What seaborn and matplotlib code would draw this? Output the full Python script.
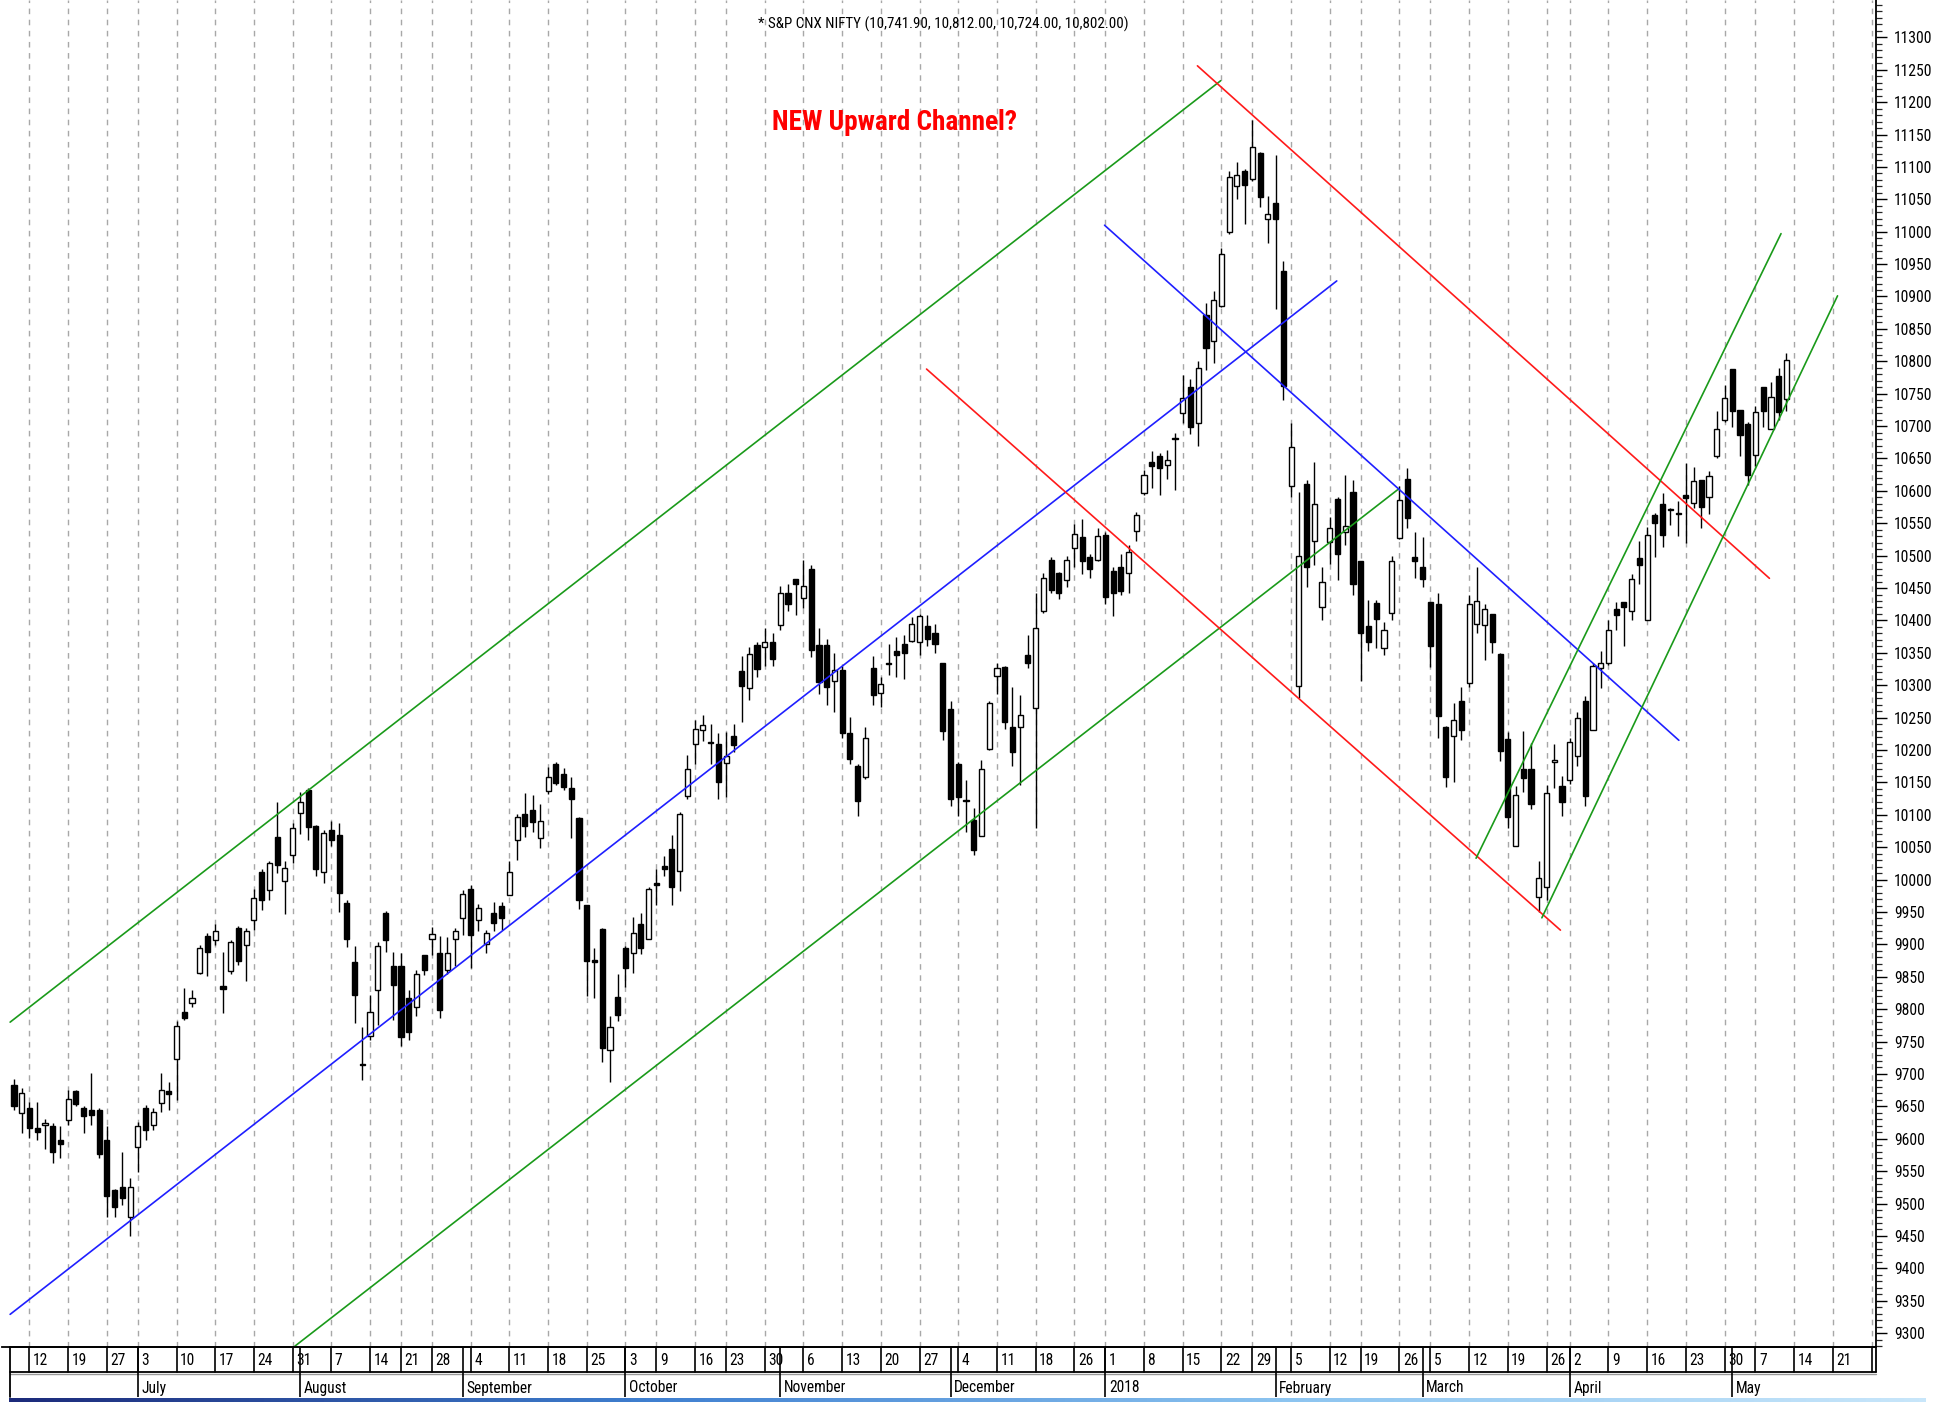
import os
import glob
import numpy as np
import pandas as pd
import matplotlib
matplotlib.use("Agg")
import matplotlib.pyplot as plt
import seaborn as sns
from matplotlib.patches import Rectangle
from matplotlib.ticker import MultipleLocator, FixedLocator
from matplotlib import font_manager
from matplotlib.font_manager import FontProperties

# ---------------- data ----------------
open_px = [
    9683, 9640, 9648, 9616, 9622, 9620, 9598, 9629, 9674, 9647, 9644, 9644, 9598, 9521, 9525, 9480,
    9588, 9648, 9621, 9655, 9674, 9723, 9796, 9810, 9856, 9913, 9907, 9836, 9859, 9925, 9899, 9937, 10011, 9984, 10065, 9998, 10038,
    10103, 10138, 10083, 10012, 10077, 10069, 9964, 9873, 9716, 9758, 9829, 9949, 9866, 9866, 9818, 9804, 9884, 9909, 9887, 9860, 9908,
    9940, 9985, 9938, 9901, 9949, 9959, 9976, 10061, 10101, 10108, 10064, 10136, 10178, 10163, 10141, 10095, 9961, 9876, 9923, 9737, 9819,
    9895, 9887, 9931, 9908, 9995, 10021, 10047, 10014, 10129, 10209, 10231, 10213, 10210, 10180, 10221, 10322, 10295, 10362, 10359, 10367,
    10393, 10443, 10464, 10434, 10479, 10362, 10362, 10307, 10324, 10226, 10175, 10158, 10326, 10288, 10332, 10353, 10364, 10369, 10366, 10391, 10381, 10334,
    10264, 10178, 10123, 10092, 10067, 10201, 10314, 10328, 10235, 10235, 10347, 10265, 10414, 10494, 10473, 10462, 10512, 10529, 10498, 10493,
    10532, 10476, 10483, 10473, 10538, 10596, 10645, 10654, 10640, 10680, 10720, 10760, 10705, 10872, 10832, 10885, 10999, 11070, 11094, 11081, 11121, 11019,
    11044, 10939, 10607, 10299, 10610, 10522, 10421, 10521, 10588, 10537, 10598, 10492, 10391, 10427, 10358, 10412, 10527, 10619, 10498,
    10483, 10428, 10425, 10235, 10221, 10275, 10303, 10395, 10393, 10410, 10348, 10217, 10052, 10171, 10170, 9973, 9989, 10182, 10145,
    10154, 10191, 10275, 10231, 10326, 10334, 10417, 10429, 10414, 10497, 10400, 10562, 10579, 10570, 10566, 10594, 10582, 10617, 10591, 10654, 10709,
    10788, 10725, 10703, 10656, 10761, 10696, 10778, 10741.9,
]
high_px = [
    9692, 9678, 9656, 9656, 9630, 9624, 9619, 9676, 9676, 9650, 9702, 9647, 9620, 9522, 9579, 9539,
    9626, 9652, 9648, 9702, 9688, 9781, 9832, 9830, 9899, 9917, 9932, 9889, 9907, 9928, 9925, 9985, 10016, 10029, 10120, 10028, 10088,
    10135, 10141, 10084, 10077, 10091, 10088, 9969, 9897, 9773, 9822, 9904, 9952, 9888, 9887, 9830, 9861, 9884, 9927, 9913, 9912, 9925,
    9984, 9992, 9962, 9922, 9966, 9966, 10029, 10101, 10134, 10131, 10116, 10174, 10182, 10172, 10159, 10097, 9961, 9894, 9925, 9789, 9855,
    9897, 9943, 9949, 9989, 10017, 10036, 10069, 10105, 10192, 10247, 10254, 10240, 10226, 10228, 10240, 10345, 10359, 10367, 10389, 10380,
    10453, 10457, 10464, 10493, 10486, 10388, 10372, 10349, 10330, 10251, 10178, 10236, 10345, 10313, 10364, 10374, 10377, 10405, 10410, 10408, 10395, 10334,
    10276, 10182, 10153, 10110, 10184, 10275, 10334, 10330, 10298, 10285, 10377, 10443, 10473, 10498, 10474, 10500, 10549, 10556, 10503, 10542,
    10536, 10483, 10502, 10516, 10567, 10632, 10661, 10658, 10663, 10689, 10779, 10772, 10801, 10890, 10909, 10975, 11094, 11108, 11097, 11172, 11123, 11055,
    11118, 10954, 10704, 10599, 10616, 10644, 10483, 10560, 10591, 10624, 10616, 10492, 10431, 10432, 10398, 10500, 10607, 10635, 10537,
    10529, 10428, 10442, 10237, 10272, 10298, 10439, 10483, 10425, 10410, 10350, 10228, 10145, 10229, 10211, 10029, 10146, 10210, 10160,
    10219, 10258, 10284, 10334, 10353, 10400, 10428, 10429, 10471, 10523, 10544, 10566, 10597, 10573, 10584, 10643, 10637, 10617, 10631, 10723, 10763,
    10788, 10725, 10706, 10731, 10761, 10768, 10790, 10812,
]
low_px = [
    9645, 9609, 9601, 9598, 9584, 9562, 9570, 9621, 9650, 9609, 9621, 9571, 9480, 9479, 9498, 9450,
    9548, 9598, 9614, 9642, 9645, 9660, 9783, 9804, 9855, 9851, 9899, 9794, 9855, 9868, 9844, 9922, 9953, 9968, 10010, 9947, 10025,
    10071, 10061, 10006, 9994, 10052, 9950, 9896, 9779, 9690, 9752, 9776, 9889, 9783, 9743, 9753, 9789, 9853, 9884, 9787, 9855, 9866,
    9914, 9863, 9921, 9886, 9921, 9922, 9976, 10030, 10066, 10074, 10048, 10132, 10146, 10139, 10064, 9954, 9820, 9817, 9719, 9688, 9781,
    9835, 9856, 9885, 9908, 9961, 10006, 9961, 9983, 10125, 10178, 10214, 10179, 10125, 10128, 10197, 10244, 10277, 10313, 10329, 10329,
    10386, 10415, 10408, 10419, 10343, 10287, 10269, 10259, 10218, 10178, 10098, 10156, 10269, 10267, 10316, 10313, 10309, 10367, 10347, 10361, 10349, 10215,
    10114, 10098, 10074, 10038, 10067, 10200, 10287, 10233, 10175, 10146, 10326, 10080, 10411, 10443, 10433, 10451, 10483, 10472, 10465, 10491,
    10425, 10407, 10440, 10443, 10523, 10594, 10605, 10594, 10618, 10602, 10704, 10687, 10670, 10786, 10798, 10883, 10996, 11050, 11012, 11079, 11038, 10983,
    10881, 10740, 10590, 10281, 10452, 10485, 10401, 10487, 10463, 10516, 10440, 10307, 10353, 10357, 10346, 10401, 10525, 10542, 10465,
    10452, 10328, 10219, 10143, 10150, 10216, 10298, 10381, 10339, 10350, 10183, 10079, 10052, 10135, 10109, 9950, 9968, 10142, 10098,
    10148, 10176, 10113, 10231, 10296, 10331, 10386, 10361, 10400, 10457, 10400, 10498, 10513, 10548, 10530, 10520, 10574, 10542, 10565, 10650, 10706,
    10698, 10654, 10609, 10639, 10698, 10695, 10709, 10724,
]
close_px = [
    9650, 9670, 9617, 9611, 9624, 9580, 9592, 9661, 9653, 9635, 9637, 9577, 9512, 9495, 9508, 9525,
    9619, 9614, 9642, 9676, 9669, 9774, 9787, 9818, 9894, 9889, 9920, 9831, 9903, 9874, 9920, 9971, 9969, 10025, 10022, 10018, 10079,
    10120, 10081, 10017, 10072, 10061, 9979, 9909, 9822, 9714, 9796, 9897, 9907, 9837, 9757, 9765, 9855, 9860, 9916, 9799, 9886, 9920,
    9978, 9914, 9956, 9918, 9933, 9940, 10011, 10097, 10083, 10089, 10090, 10159, 10149, 10143, 10125, 9969, 9875, 9873, 9740, 9772, 9791,
    9864, 9917, 9894, 9985, 9992, 10017, 9988, 10101, 10170, 10233, 10239, 10211, 10150, 10190, 10208, 10299, 10348, 10325, 10366, 10340,
    10443, 10426, 10456, 10453, 10354, 10305, 10298, 10324, 10227, 10186, 10122, 10218, 10285, 10302, 10334, 10347, 10349, 10394, 10407, 10371, 10364, 10230,
    10125, 10128, 10121, 10046, 10170, 10272, 10326, 10244, 10197, 10254, 10335, 10389, 10465, 10447, 10443, 10494, 10534, 10491, 10480, 10531,
    10436, 10443, 10446, 10505, 10563, 10625, 10638, 10636, 10647, 10682, 10743, 10699, 10789, 10820, 10894, 10965, 11084, 11087, 11072, 11130, 11054, 11028,
    11019, 10762, 10667, 10500, 10482, 10580, 10459, 10543, 10503, 10545, 10456, 10380, 10366, 10402, 10386, 10492, 10586, 10558, 10492,
    10464, 10360, 10252, 10158, 10246, 10231, 10425, 10430, 10417, 10366, 10198, 10096, 10130, 10157, 10117, 10002, 10134, 10185, 10119,
    10213, 10250, 10129, 10330, 10334, 10385, 10408, 10420, 10464, 10485, 10532, 10550, 10532, 10572, 10564, 10589, 10615, 10575, 10623, 10696, 10743,
    10724, 10686, 10624, 10721, 10724, 10745, 10721, 10802,
]

# NSE holidays in the period (Oct-19 muhurat session is a trading bar)
holidays = ["2017-06-26", "2017-08-15", "2017-08-25", "2017-10-02", "2017-10-20",
            "2017-12-25", "2018-01-26", "2018-02-13", "2018-03-02", "2018-03-29",
            "2018-03-30", "2018-05-01"]

# trend lines: (bar number start, price start, bar number end, price end, colour)
trend_lines = {
    "green_upper":     (-0.5, 9780, 155.9, 11233, "#1a9a1a"),
    "green_lower":     (36.3, 9280, 178.9, 10603, "#1a9a1a"),
    "blue_mid":        (-0.5, 9329, 170.9, 10924, "#1f1fff"),
    "blue_down":       (140.9, 11010, 215.1, 10215, "#1f1fff"),
    "red_upper":       (152.9, 11256, 226.8, 10465, "#ff1a1a"),
    "red_lower":       (117.9, 10788, 199.8, 9922, "#ff1a1a"),
    "green_new_upper": (188.9, 10033, 228.3, 10997, "#1a9a1a"),
    "green_new_lower": (197.4, 9941, 235.6, 10901, "#1a9a1a"),
}

title_text = "* S&P CNX NIFTY (10,741.90, 10,812.00, 10,724.00, 10,802.00)"
note_text = "NEW Upward Channel?"
month_names = {7: "July", 8: "August", 9: "September", 10: "October", 11: "November",
               12: "December", 1: "2018", 2: "February", 3: "March", 4: "April", 5: "May", 6: "June"}

# ---------------- fonts: look for a narrow / condensed face ----------------
sns.set_style("white")
plt.rcParams["font.family"] = ["DejaVu Sans"]

cands = []
for pat in ["/usr/share/fonts/**/*.[to]tf", "/usr/local/share/fonts/**/*.[to]tf",
            os.path.expanduser("~/.fonts/**/*.[to]tf"),
            os.path.expanduser("~/.local/share/fonts/**/*.[to]tf")]:
    cands += glob.glob(pat, recursive=True)
cands += [f.fname for f in font_manager.fontManager.ttflist]


def pick(rules):
    for keys, bad in rules:
        for c in cands:
            b = os.path.basename(c).lower().replace("-", "").replace("_", "").replace(" ", "")
            if all(k in b for k in keys) and not any(x in b for x in bad) \
                    and "italic" not in b and "oblique" not in b:
                return c
    return None


reg_file = pick([
    (("liberationsansnarrow",), ("bold",)),
    (("arialnarrow",), ("bold",)),
    (("arialn.ttf",), ()),
    (("robotocondensed",), ("bold", "light", "medium", "black", "thin")),
    (("dejavusanscondensed.ttf",), ()),
    (("notosans", "condensed"), ("bold", "light", "medium", "black", "thin", "semi", "extra", "mono", "cjk")),
    (("opensans", "condensed"), ("bold", "light", "medium", "semi", "extra")),
])
bold_file = pick([
    (("liberationsansnarrow", "bold"), ()),
    (("arialnarrow", "bold"), ()),
    (("arialnb.ttf",), ()),
    (("robotocondensed", "bold"), ("semi", "extra")),
    (("dejavusanscondensedbold",), ()),
    (("notosans", "condensed", "bold"), ("semi", "extra", "mono", "cjk")),
    (("opensans", "condensed", "bold"), ("semi", "extra")),
])


def fp_regular(size):
    if reg_file:
        return FontProperties(fname=reg_file, size=size)
    return FontProperties(family=["Liberation Sans", "DejaVu Sans"], size=size)


def fp_bold(size):
    if bold_file:
        return FontProperties(fname=bold_file, size=size)
    return FontProperties(family=["Liberation Sans", "DejaVu Sans"], weight="bold", size=size)


# ---------------- figure ----------------
W, H = 1950, 1403
fig = plt.figure(figsize=(W / 100, H / 100), dpi=100)
fig.patch.set_facecolor("white")
renderer = fig.canvas.get_renderer()


def size_for(text, target_px, maker, base=12.0, lo=7.0, hi=30.0):
    t = fig.text(0, 0, text, fontproperties=maker(base))
    w = t.get_window_extent(renderer).width
    t.remove()
    return float(np.clip(base * target_px / max(w, 1), lo, hi))


s_title = size_for(title_text, 367, fp_regular, lo=9, hi=13)
s_note = size_for(note_text, 246, fp_bold, lo=15, hi=24)
s_ytick = size_for("11300", 38, fp_regular, lo=9, hi=13)
s_date = size_for("September", 66, fp_regular, lo=9, hi=13)

XL, XR = -1.55, 240.57
YB, YT = 9278.6, 11357.6
ax = fig.add_axes([2 / W, 56 / H, 1874 / W, 1347 / H])
ax.set_xlim(XL, XR)
ax.set_ylim(YB, YT)
ax.set_facecolor("white")

# trading dates (extended into the future for the date axis)
all_days = pd.bdate_range("2017-06-08", "2018-06-01")
all_days = all_days[~all_days.isin(pd.to_datetime(holidays))]
n = len(close_px)
bars = np.arange(n)
df = pd.DataFrame({"bar": bars, "date": all_days[:n], "open": open_px, "high": high_px,
                   "low": low_px, "close": close_px})

axis_days = pd.DataFrame({"date": all_days, "bar": np.arange(len(all_days))})
iso = axis_days["date"].dt.isocalendar()
axis_days["week"] = iso["year"].astype(str) + "-" + iso["week"].astype(str)
week_starts = axis_days.groupby("week", sort=False).first()
week_starts = week_starts[(week_starts["bar"] > 0) & (week_starts["bar"] <= XR + 1)]
axis_days["ym"] = axis_days["date"].dt.to_period("M")
month_starts = axis_days.groupby("ym", sort=False).first()
month_starts = month_starts[(month_starts["bar"] > 0) & (month_starts["bar"] <= XR)]

# weekly dashed gridlines
for b in week_starts["bar"]:
    ax.axvline(b, color="#a8a8a8", lw=1.0, ls=(0, (4, 4)), zorder=1)

# candles
body_w = 0.66
ax.vlines(df["bar"], df["low"], df["high"], color="black", lw=1.0, zorder=2)
for r in df.itertuples():
    lo, hi = min(r.open, r.close), max(r.open, r.close)
    h = max(hi - lo, 1.2)
    fc = "white" if r.close >= r.open else "black"
    ax.add_patch(Rectangle((r.bar - body_w / 2, lo), body_w, h, facecolor=fc,
                           edgecolor="black", lw=1.0, zorder=3))

# trend lines via seaborn
for name, (x0, y0, x1, y1, col) in trend_lines.items():
    seg = pd.DataFrame({"bar": [x0, x1], "price": [y0, y1]})
    sns.lineplot(data=seg, x="bar", y="price", ax=ax, color=col, lw=1.2, zorder=4,
                 legend=False, errorbar=None)

ax.set_xlabel("")
ax.set_ylabel("")
ax.set_xticks([])

# right price axis
ax.yaxis.tick_right()
ax.yaxis.set_major_locator(FixedLocator(np.arange(9300, 11301, 50)))
ax.yaxis.set_minor_locator(MultipleLocator(10))
ax.tick_params(axis="y", which="major", direction="out", length=8, width=1.0,
               pad=5, colors="black")
ax.tick_params(axis="y", which="minor", direction="out", length=4, width=0.9)
for lab in ax.get_yticklabels():
    lab.set_fontproperties(fp_regular(s_ytick))
for s in ["top", "left"]:
    ax.spines[s].set_visible(False)
ax.spines["right"].set_color("black")
ax.spines["right"].set_linewidth(1.3)
ax.spines["bottom"].set_color("black")
ax.spines["bottom"].set_linewidth(1.3)

# texts
ax.text((943 - 2) / 1874, 1 - 24 / 1347, title_text, transform=ax.transAxes, ha="center",
        va="center", color="black", fontproperties=fp_regular(s_title))
ax.text((894 - 2) / 1874, 1 - 122 / 1347, note_text, transform=ax.transAxes, ha="center",
        va="center", color="#ff0000", fontproperties=fp_bold(s_note))

# ---------------- date band ----------------
axd = fig.add_axes([2 / W, 6 / H, 1874 / W, 50 / H])
axd.set_xlim(XL, XR)
axd.set_ylim(0, 2)
axd.axis("off")
x_start = (10 - 14) / 7.74
axd.plot([x_start, XR], [2, 2], color="black", lw=1.3, clip_on=False)
axd.plot([x_start, XR], [1.02, 1.02], color="black", lw=1.3, clip_on=False)
axd.plot([x_start, XR], [0.94, 0.94], color="#9a9a9a", lw=1.0, clip_on=False)
axd.plot([x_start, x_start], [0.0, 2], color="black", lw=1.3, clip_on=False)
axd.plot([XR, XR], [1.0, 2], color="black", lw=1.3, clip_on=False)
for r in week_starts.itertuples():
    axd.plot([r.bar, r.bar], [1.02, 2], color="black", lw=1.2)
    axd.text(r.bar + 0.45, 1.47, str(r.date.day), ha="left", va="center",
             color="black", fontproperties=fp_regular(s_date), clip_on=True)
for r in month_starts.itertuples():
    axd.plot([r.bar, r.bar], [0.0, 2], color="black", lw=1.2)
    axd.text(r.bar + 0.45, 0.36, month_names[r.date.month], ha="left", va="center",
             color="black", fontproperties=fp_regular(s_date), clip_on=True)

# blue gradient bar at bottom
axg = fig.add_axes([9 / W, 1 / H, 1917 / W, 4 / H])
axg.axis("off")
grad = np.linspace(0, 1, 256).reshape(1, -1)
cmap = matplotlib.colors.LinearSegmentedColormap.from_list(
    "bar", ["#1c2a7a", "#3f7fd0", "#8cc4f0", "#c8e6fa"])
axg.imshow(grad, aspect="auto", cmap=cmap, extent=(0, 1, 0, 1))

fig.savefig("out.png", dpi=100, facecolor="white")
